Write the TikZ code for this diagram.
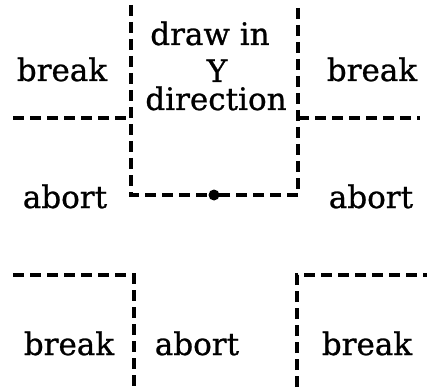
\documentclass[tikz,border=0pt]{standalone}
\usepackage{fontspec}
\setmainfont{DejaVu Serif}[FakeBold=0.8]
\begin{document}
\begin{tikzpicture}[x=1pt,y=-1pt,
  dline/.style={line width=3.3pt, dash pattern=on 11pt off 6pt},
  lbl/.style={anchor=base, inner sep=0pt, font=\fontsize{31}{36}\selectfont}]
\useasboundingbox[fill=white] (0,0) rectangle (427,387);
% top box
\coordinate (tl) at (131,5);
\coordinate (tr) at (298,8);
\coordinate (bl) at (131,195);
\coordinate (br) at (298,195);
\coordinate (dot) at (214,195);
\draw[dline] (tl) -- (bl) -- (dot);
\draw[dline] (tr) -- (br) -- (dot);
\fill (dot) circle (5.5pt);
% horizontal separators
\coordinate (hl0) at (13,118);
\coordinate (hl1) at (131,118);
\coordinate (hr0) at (298,118);
\coordinate (hr1) at (420,118);
\draw[dline] (hl0) -- (hl1);
\draw[dline] (hr0) -- (hr1);
% bottom brackets
\coordinate (a0) at (13,275);
\coordinate (a1) at (134,275);
\coordinate (a2) at (134,387);
\draw[dline] (a0) -- (a1) -- (a2);
\coordinate (b0) at (297,387);
\coordinate (b1) at (297,275);
\coordinate (b2) at (427,275);
\draw[dline] (b0) -- (b1) -- (b2);
% labels
\node[lbl] (brTL) at (62,81) {break};
\node[lbl] (brTR) at (372,81) {break};
\node[lbl] (d1) at (210,45) {draw in};
\node[lbl] (d2) at (217,82) {Y};
\node[lbl] (d3) at (216,110) {direction};
\node[lbl] (abL) at (65,208) {abort};
\node[lbl] (abR) at (371,208) {abort};
\node[lbl] (brBL) at (69,355) {break};
\node[lbl] (abB) at (197,355) {abort};
\node[lbl] (brBR) at (367,355) {break};
\end{tikzpicture}
\end{document}
